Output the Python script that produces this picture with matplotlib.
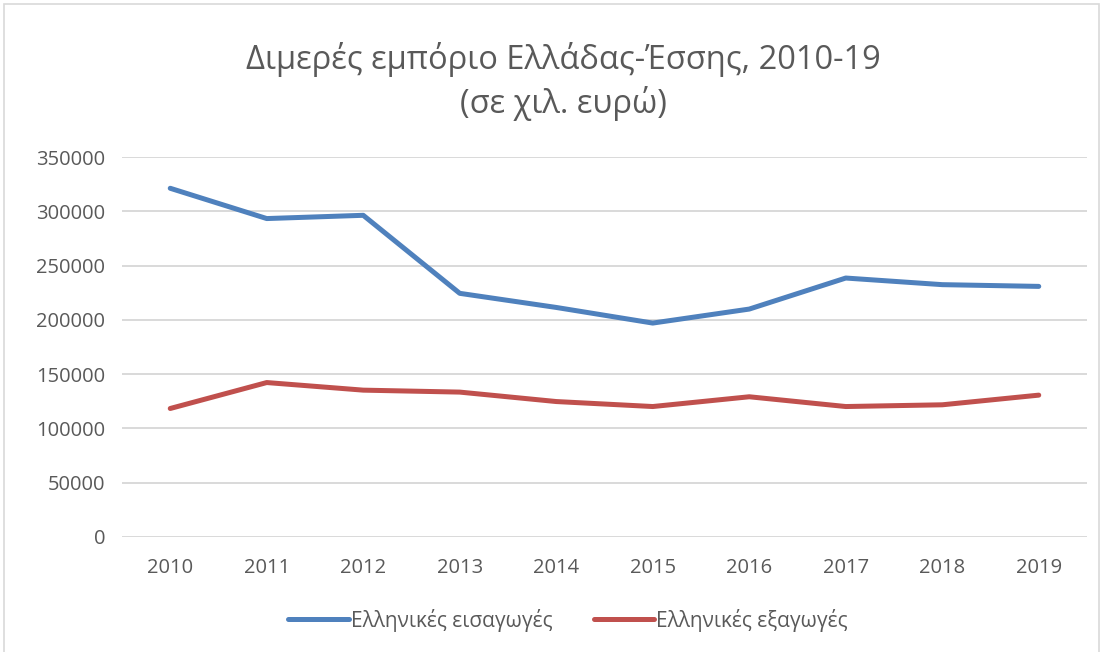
import matplotlib
matplotlib.use("Agg")
from matplotlib import pyplot as plt
from matplotlib.patches import Rectangle

years = ["2010", "2011", "2012", "2013", "2014", "2015", "2016", "2017", "2018", "2019"]
imports_gr = [321300, 293400, 296400, 224500, 211500, 197100, 210000, 238600, 232500, 230900]
exports_gr = [118400, 142300, 135300, 133500, 124800, 120200, 129200, 120200, 121800, 130700]
yticks = [0, 50000, 100000, 150000, 200000, 250000, 300000, 350000]

plt.rcParams['font.family'] = ['Open Sans', 'DejaVu Sans']

fig = plt.figure(figsize=(11.03, 6.52), dpi=100)
ax = fig.add_axes([0.1106, 0.1764, 0.8749, 0.5826])

x = list(range(len(years)))
ax.plot(x, imports_gr, color="#4F81BD", lw=3.6, solid_capstyle="round",
        solid_joinstyle="round", label="Ελληνικές εισαγωγές", zorder=3)
ax.plot(x, exports_gr, color="#C0504D", lw=3.6, solid_capstyle="round",
        solid_joinstyle="round", label="Ελληνικές εξαγωγές", zorder=3)

ax.set_xlim(-0.5, len(years) - 0.5)
ax.set_ylim(0, 350000)
ax.set_yticks(yticks)
ax.set_yticklabels([str(v) for v in yticks])
ax.set_xticks(x)
ax.set_xticklabels(years)
ax.grid(axis="y", color="#d9d9d9", lw=1.4)
ax.set_axisbelow(True)
for s in ax.spines.values():
    s.set_visible(False)
ax.tick_params(length=0, labelsize=14.5, colors="#595959", pad=12)
ax.tick_params(axis="x", pad=15)

fig.text(0.511, 0.908, "Διμερές εμπόριο Ελλάδας-Έσσης, 2010-19", ha="center", va="center",
         fontsize=23.5, color="#595959")
fig.text(0.511, 0.841, "(σε χιλ. ευρώ)", ha="center", va="center",
         fontsize=23.5, color="#595959")

lgd = fig.legend(loc="center", bbox_to_anchor=(0.515, 0.049), ncol=2, frameon=False,
                 fontsize=15, handlelength=2.9, handletextpad=0.1, columnspacing=2.0)
for t in lgd.get_texts():
    t.set_color("#595959")

fig.patches.append(Rectangle((0.004, -0.01), 0.992, 1.004, transform=fig.transFigure,
                             fill=False, edgecolor="#d9d9d9", lw=1.2))

plt.savefig("out.png", dpi=100)
